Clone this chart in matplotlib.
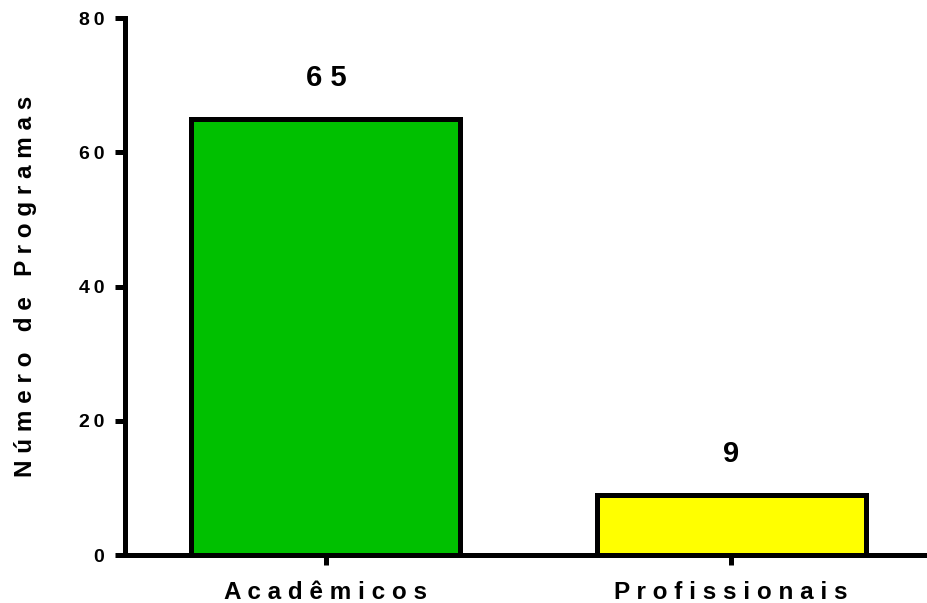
import matplotlib.pyplot as plt

categories = ["Acadêmicos", "Profissionais"]
values = [65, 9]
bar_colors = ["#00c000", "#ffff00"]
yticks = [0, 20, 40, 60, 80]


def spaced(s, sep=" "):
    return sep.join(s)


plt.rcParams["font.family"] = ["Liberation Sans", "DejaVu Sans"]
plt.rcParams["font.weight"] = "bold"

fig = plt.figure(figsize=(9.28, 6.03), dpi=100)
ax = fig.add_axes([0.1347, 0.0796, 0.8623, 0.8905])

x = list(range(len(categories)))
ax.bar(x, values, width=0.664, color=bar_colors, edgecolor="black", linewidth=3.6, zorder=3)

for xi, v in zip(x, values):
    ax.text(xi, v + 4, spaced(str(v)), ha="center", va="bottom", fontsize=21, fontweight="bold")

ax.set_xlim(-0.496, 1.479)
ax.set_ylim(0, 80)
ax.set_yticks(yticks)
ax.set_yticklabels([spaced(str(t), "\u2009") for t in yticks], fontsize=14, fontweight="bold")
ax.set_xticks(x)
ax.set_xticklabels([spaced(c) for c in categories], fontsize=17.5, fontweight="bold")
ax.tick_params(axis="both", width=3.6, length=7, direction="out", pad=8)
ax.tick_params(axis="x", pad=12)

for side in ["top", "right"]:
    ax.spines[side].set_visible(False)
for side in ["left", "bottom"]:
    ax.spines[side].set_linewidth(3.6)

ax.set_ylabel(spaced("Número de Programas"), fontsize=17.5, fontweight="bold", labelpad=30)

fig.savefig("out.png", dpi=100)
